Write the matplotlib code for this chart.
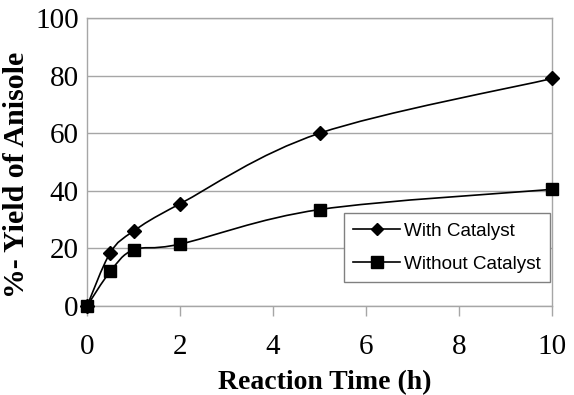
import matplotlib
matplotlib.use('Agg')
import matplotlib.pyplot as plt
from matplotlib.path import Path
from matplotlib.patches import PathPatch
from matplotlib.lines import Line2D

time_h = [0, 0.5, 1, 2, 5, 10]
with_catalyst = [0, 18.5, 26, 35.5, 60, 79]
without_catalyst = [0, 12, 19.5, 21.5, 33.5, 40.5]
x_ticks = [0, 2, 4, 6, 8, 10]
y_ticks = [0, 20, 40, 60, 80, 100]

grid_col = '#a6a6a6'


def smooth_path(xs, ys):
    # Excel-like smoothed line: cubic Bezier segments through the data points
    pts = list(zip(xs, ys))
    verts = [pts[0]]
    codes = [Path.MOVETO]
    n = len(pts)
    for i in range(n - 1):
        p0 = pts[max(i - 1, 0)]
        p1 = pts[i]
        p2 = pts[i + 1]
        p3 = pts[min(i + 2, n - 1)]
        c1 = (p1[0] + (p2[0] - p0[0]) / 6, p1[1] + (p2[1] - p0[1]) / 6)
        c2 = (p2[0] - (p3[0] - p1[0]) / 6, p2[1] - (p3[1] - p1[1]) / 6)
        verts += [c1, c2, p2]
        codes += [Path.CURVE4] * 3
    return Path(verts, codes)


fig = plt.figure(figsize=(5.74, 3.95), dpi=100)
ax = fig.add_axes([0.1516, 0.2253, 0.8106, 0.7291])

for ys in (with_catalyst, without_catalyst):
    ax.add_patch(PathPatch(smooth_path(time_h, ys), facecolor='none',
                           edgecolor='black', lw=1.2, zorder=3))

ax.plot(time_h, with_catalyst, linestyle='none', marker='D', ms=7.5,
        color='black', zorder=4, clip_on=False)
ax.plot(time_h, without_catalyst, linestyle='none', marker='s', ms=8.5,
        color='black', zorder=4, clip_on=False)

ax.set_xlim(0, 10)
ax.set_ylim(0, 100)
ax.set_xticks(x_ticks)
ax.set_yticks(y_ticks)
ax.yaxis.grid(True, color=grid_col, lw=1)
ax.set_axisbelow(True)
for s in ax.spines.values():
    s.set_color(grid_col)
    s.set_linewidth(1)

ax.tick_params(axis='x', length=7, width=1, color=grid_col, pad=13,
               labelsize=21)
ax.tick_params(axis='y', length=0, pad=6, labelsize=21)
for lab in ax.get_xticklabels() + ax.get_yticklabels():
    lab.set_fontfamily('Liberation Serif')

ax.set_xlabel('Reaction Time (h)', fontsize=20, fontweight='bold',
              fontfamily='Liberation Serif')
ax.set_ylabel('%- Yield of Anisole', fontsize=21.5, fontweight='bold',
              fontfamily='Liberation Serif')
ax.xaxis.set_label_coords(0.51, -0.222)
ax.yaxis.set_label_coords(-0.122, 0.455)

handles = [
    Line2D([], [], color='black', lw=1.2, marker='D', ms=6.5),
    Line2D([], [], color='black', lw=1.2, marker='s', ms=8),
]
leg = ax.legend(handles, ['With Catalyst', 'Without Catalyst'],
                loc='upper right', bbox_to_anchor=(0.996, 0.323),
                borderaxespad=0, fancybox=False, framealpha=1,
                edgecolor='#808080', handlelength=2.5, handletextpad=0.2,
                labelspacing=0.85, borderpad=0.5,
                prop={'family': 'Liberation Sans', 'size': 13.6})
leg.get_frame().set_linewidth(1)

fig.savefig('out.png', dpi=100)
